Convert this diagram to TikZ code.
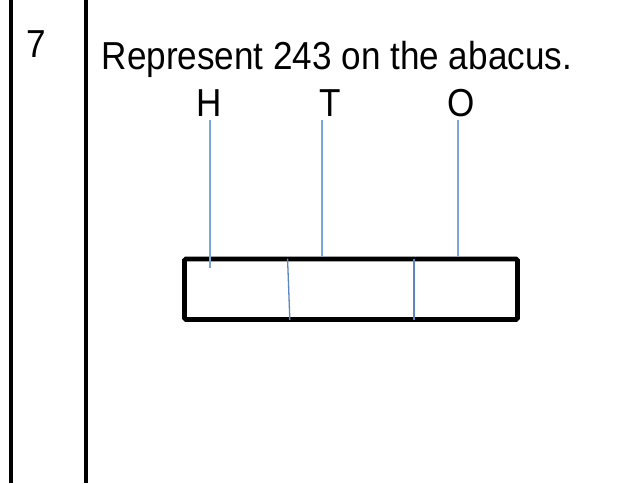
\documentclass[tikz,border=0pt]{standalone}
\usepackage{fontspec}
\setmainfont[FakeStretch=0.9]{Liberation Sans}
\usetikzlibrary{calc}
\definecolor{rodblue}{RGB}{125,165,212}
\definecolor{divblue}{RGB}{80,120,180}
\tikzset{
  rod/.style={draw=rodblue,line width=1.5pt},
  divider/.style={draw=divblue!70!rodblue,line width=1.3pt},
  place/.style={inner sep=0pt,outer sep=3pt,font=\fontsize{39}{42}\selectfont},
  qtext/.style={inner sep=0pt,font=\fontsize{39}{44}\selectfont}
}
\begin{document}
\begin{tikzpicture}[x=1pt,y=-1pt]
          \useasboundingbox (0,0) rectangle (626,483);
          % table rules
          \draw[line width=4pt] (11,0) -- (11,483);
          \draw[line width=4pt] (86,0) -- (86,483);
          \node(num)[qtext,anchor=base] at (36.5,57) {7};
          \node(task)[qtext,anchor=base west] at (101.5,69.3) {Represent 243 on the abacus.};
          % abacus
          \node(H)[place,anchor=base] at (209.3,116.7) {H};
          \node(T)[place,anchor=base] at (330,116.7) {T};
          \node(O)[place,anchor=base] at (461,116.7) {O};
          \node(frame)[draw,line width=4.7pt,rounded corners=1.5pt,minimum width=333pt,minimum height=60.5pt] at (351,289.25) {};
          \coordinate(rH) at (210,268);
          \coordinate(rT) at (322,0);
          \coordinate(rO) at (458,0);
          \draw[rod] (H.south -| rH) -- (rH);
          \draw[rod] (T.south -| rT) -- (rT |- frame.north);
          \draw[rod] (O.south -| rO) -- (rO |- frame.north);
          \draw[divider] ($(frame.north west)+(105.4,2)$) -- ($(frame.south west)+(107.7,-2)$);
          \draw[divider] ($(frame.north west)+(231.7,2)$) -- ($(frame.south west)+(231.7,-2)$);
        \end{tikzpicture}
\end{document}
